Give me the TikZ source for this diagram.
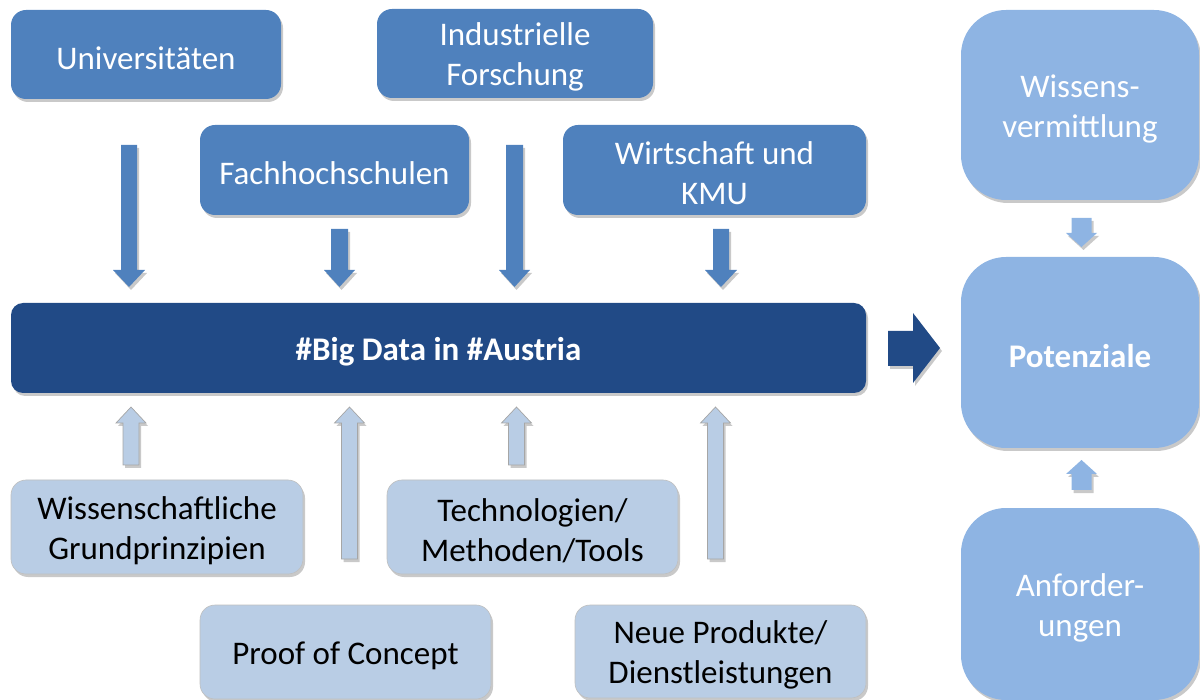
\documentclass[tikz,border=0pt]{standalone}
\usepackage{fontspec}
\setmainfont{Carlito}
\usetikzlibrary{shadows}
\definecolor{midblue}{HTML}{4F81BD}
\definecolor{darkblue}{HTML}{214A86}
\definecolor{lightblue}{HTML}{8EB4E3}
\definecolor{paleblue}{HTML}{B9CDE5}
\newcommand{\blkv}[7]{\path[#1] ({#2-#6},#3) -- ({#2+#6},#3) -- ({#2+#6},#4) -- ({#2+#7},#4) -- (#2,#5) -- ({#2-#7},#4) -- ({#2-#6},#4) -- cycle;}
% box: style, name, x, y, width, height, text style, text
\newcommand{\bx}[8]{%
  \node[#1, minimum width=#5pt, minimum height=#6pt] (#2) at (#3,#4) {};
  \node[txt, #7] (#2-t) at ([yshift=-3.5pt]#2.center) {#8};}
\tikzset{
  shad/.style={drop shadow={shadow xshift=2pt, shadow yshift=-3pt, opacity=0.3, fill=black!70}},
  basebox/.style={rectangle, inner sep=0pt, shad},
  txt/.style={inner sep=0pt, align=center, font=\fontsize{33}{40}\selectfont},
  topbox/.style={basebox, rounded corners=15pt, fill=midblue},
  barbox/.style={basebox, rounded corners=12pt, fill=darkblue},
  sidebox/.style={basebox, rounded corners=45pt, fill=lightblue},
  lowbox/.style={basebox, rounded corners=15pt, fill=paleblue, draw=black!25, line width=0.6pt},
  wtxt/.style={text=white},
  btxt/.style={text=white, font=\fontsize{33}{40}\selectfont\bfseries},
  ktxt/.style={text=black},
  downarr/.style={fill=midblue, shad},
  uparr/.style={fill=paleblue, draw=black!35, line width=0.7pt, shad},
  sidearr/.style={fill=lightblue, shad},
  bigarr/.style={fill=darkblue, shad},
}
\begin{document}
\begin{tikzpicture}[x=1pt,y=-1pt]
\path[use as bounding box] (0,0) rectangle (1200,700);
% top boxes
\bx{topbox}{uni}{146}{54.5}{270}{89}{wtxt}{Universitäten}
\bx{topbox}{ind}{515}{53.5}{276}{89}{wtxt}{Industrielle\\Forschung}
\bx{topbox}{fh}{334.5}{170}{269}{90}{wtxt}{Fachhochschulen}
\bx{topbox}{wirt}{714.5}{170}{303}{90}{wtxt}{Wirtschaft und\\KMU}
% bar
\bx{barbox}{bar}{438.5}{348}{855}{90}{btxt}{\#Big Data in \#Austria}
% right column
\bx{sidebox}{wiss}{1080}{105}{238}{190}{wtxt}{Wissens-\\vermittlung}
\bx{sidebox}{pot}{1080}{352.5}{238}{191}{btxt}{Potenziale}
\bx{sidebox}{anf}{1080}{604}{238}{192}{wtxt}{Anforder-\\ungen}
% lower boxes
\bx{lowbox}{wg}{157}{527}{292}{94}{ktxt}{Wissenschaftliche\\Grundprinzipien}
\bx{lowbox}{tech}{532.5}{527}{291}{94}{ktxt}{Technologien/\\Methoden/Tools}
\bx{lowbox}{poc}{345.5}{652}{291}{94}{ktxt}{Proof of Concept}
\bx{lowbox}{neue}{720.5}{651.5}{291}{93}{ktxt}{Neue Produkte/\\Dienstleistungen}
% down arrows into bar
\blkv{downarr}{129}{145}{270}{287}{8}{16}
\blkv{downarr}{339.5}{229}{270}{287}{8.5}{15.5}
\blkv{downarr}{514.5}{145}{270}{287}{8.5}{15.5}
\blkv{downarr}{721}{229}{270}{287}{8}{16}
% up arrows into bar
\blkv{uparr}{131}{465}{423}{407}{8}{15}
\blkv{uparr}{349.5}{559}{423}{407}{8}{15}
\blkv{uparr}{516.5}{465}{423}{407}{8}{15}
\blkv{uparr}{715.5}{559}{423}{407}{8}{15}
% right column small arrows
\blkv{sidearr}{1081.5}{218}{233}{247}{10}{15.5}
\blkv{sidearr}{1081.5}{490}{474}{460}{10}{15.5}
% big right arrow
\path[bigarr] (888,331) -- (913,331) -- (913,313) -- (940,348) -- (913,383) -- (913,366) -- (888,366) -- cycle;
\end{tikzpicture}
\end{document}
